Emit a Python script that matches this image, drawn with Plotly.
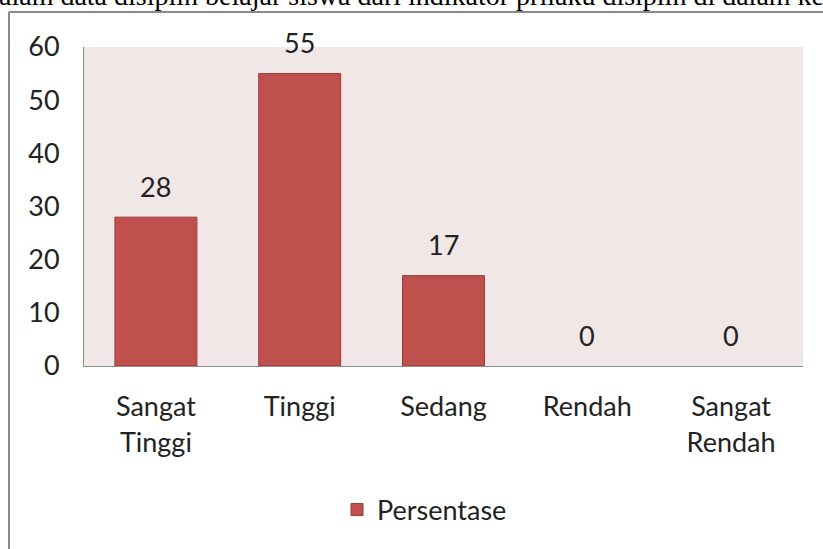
import plotly.graph_objects as go

categories = ["Sangat<br>Tinggi", "Tinggi", "Sedang", "Rendah", "Sangat<br>Rendah"]
values = [28, 55, 17, 0, 0]
y_ticks = [0, 10, 20, 30, 40, 50, 60]
series_name = "Persentase"
top_text = "alam data disiplin belajar siswa dari indikator prilaku disiplin di dalam kelas"

W, H = 823, 549
L, T = 84, 47
R = W - 803
B = H - 366
pw, ph = W - L - R, H - T - B

def px_x(x_page):
    return (x_page - L) / pw

def px_y(y_page):
    return (H - B - y_page) / ph

FONT = "Lato"
FS = 27

fig = go.Figure()
fig.add_trace(go.Bar(
    x=categories, y=values, name=series_name,
    marker=dict(color="#C0504D",
                line=dict(color="#9A3C39", width=[1 if v > 0 else 0 for v in values])),
    showlegend=True,
))

for c, v in zip(categories, values):
    fig.add_annotation(x=c, y=v, text=str(v), showarrow=False,
                       yanchor="middle", yshift=31,
                       font=dict(family=FONT, size=FS, color="#222222"))

# top cut-off text
fig.add_annotation(xref="paper", yref="paper", x=px_x(-3), y=px_y(-4),
                   xanchor="left", yanchor="middle", text=top_text,
                   showarrow=False,
                   font=dict(family="Liberation Serif", size=28, color="#000000"))

# chart frame lines
fig.add_shape(type="line", xref="paper", yref="paper",
              x0=px_x(9), x1=px_x(840), y0=px_y(12), y1=px_y(12),
              line=dict(color="#8a8a8a", width=2))
fig.add_shape(type="line", xref="paper", yref="paper",
              x0=px_x(9), x1=px_x(9), y0=px_y(12), y1=px_y(570),
              line=dict(color="#8a8a8a", width=2))

fig.update_layout(
    width=W, height=H,
    margin=dict(l=L, r=R, t=T, b=B, autoexpand=False),
    paper_bgcolor="white",
    plot_bgcolor="#F2E7E7",
    bargap=0.43,
    font=dict(family=FONT, size=FS, color="#222222"),
    legend=dict(orientation="h", x=px_x(337), y=px_y(510),
                xanchor="left", yanchor="middle",
                font=dict(family=FONT, size=FS, color="#222222"),
                bgcolor="rgba(0,0,0,0)"),
    xaxis=dict(showline=True, linecolor="#8c8c8c", linewidth=1,
               ticks="", showgrid=False, ticklabelstandoff=17,
               tickfont=dict(family=FONT, size=FS, color="#222222")),
    yaxis=dict(range=[0, 60], tickvals=y_ticks, showline=True,
               linecolor="#8c8c8c", linewidth=1, ticks="", showgrid=False,
               zeroline=False, ticklabelstandoff=18,
               tickfont=dict(family=FONT, size=FS, color="#222222")),
)

fig.write_html(
    "out.html",
    config={"displayModeBar": False},
    post_script="document.body.style.margin='0';document.body.style.overflow='hidden';",
)
